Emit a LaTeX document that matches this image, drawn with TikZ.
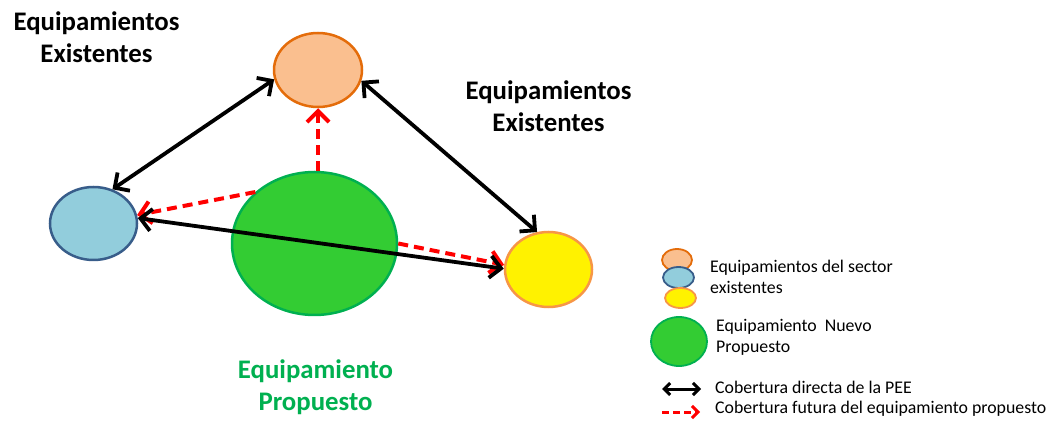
\documentclass[tikz,border=0pt]{standalone}
\usepackage{fontspec}
\setmainfont{Carlito}
\usetikzlibrary{shapes.geometric,arrows.meta}
\definecolor{orgfill}{RGB}{250,191,143}
\definecolor{orgline}{RGB}{228,108,10}
\definecolor{blufill}{RGB}{146,205,220}
\definecolor{bluline}{RGB}{56,93,138}
\definecolor{grnfill}{RGB}{51,204,51}
\definecolor{grnline}{RGB}{0,176,80}
\definecolor{yelline}{RGB}{247,150,70}
\begin{document}
\begin{tikzpicture}[x=1pt,y=1pt,
    eq/.style={ellipse,inner sep=0pt,line width=2.5pt},
    eqs/.style={ellipse,inner sep=0pt,line width=1.8pt},
    dir/.style={line width=3.8pt,{Straight Barb[length=11pt,width=22pt]}-{Straight Barb[length=11pt,width=22pt]}},
    fut/.style={red,line width=4pt,dash pattern=on 10pt off 6pt,-{Straight Barb[length=11pt,width=22pt]}},
    ttl/.style={font=\fontsize{26.8}{32}\selectfont\bfseries,align=center},
    lgd/.style={font=\fontsize{17.8}{21}\selectfont,align=left,anchor=west,inner sep=0pt}]
    \useasboundingbox[fill=white] (0,0) rectangle (1048,420);

    \node[eq,draw=orgline,fill=orgfill,minimum width=88,minimum height=74] (org) at (318,350) {};
    \node[eq,draw=bluline,fill=blufill,minimum width=87,minimum height=73] (blu) at (93.5,196.5) {};
    \node[eq,draw=grnline,fill=grnfill,minimum width=165,minimum height=143] (grn) at (314.5,176.5) {};
    \node[eq,draw=yelline,fill=yellow,minimum width=87,minimum height=75] (yel) at (548.5,150.5) {};

    \draw[fut] (grn.north -| org.south) -- (org.south);
    \draw[fut] (grn.139) -- (blu.11);
    \draw[fut] (grn.east) -- (yel.174);

    \draw[dir] (org.192) -- (blu.61);
    \draw[dir] (org.346) -- (yel.107);
    \draw[dir] (blu.7) -- (yel.179);

    \node[ttl] (t1) at (96.5,383) {Equipamientos\\Existentes};
    \node[ttl] (t2) at (548.5,314) {Equipamientos\\Existentes};
    \node[ttl,text=grnline] (t3) at (315.5,32.5) {Equipamiento\\Propuesto};

    \node[eqs,draw=orgline,fill=orgfill,minimum width=30,minimum height=22] (lorg) at (677,160) {};
    \node[eqs,draw=bluline,fill=blufill,minimum width=31,minimum height=21] (lblu) at (678.5,142.5) {};
    \node[eqs,draw=yelline,fill=yellow,minimum width=31,minimum height=20] (lyel) at (680.5,122) {};
    \node[eqs,draw=grnline,fill=grnfill,minimum width=56,minimum height=49] (lgrn) at (679,78.5) {};

    \node[lgd] (l1) at (710,143.5) {Equipamientos del sector\\existentes};
    \node[lgd] (l2) at (716,82.5) {Equipamiento\ \ Nuevo\\Propuesto};
    \node[lgd,anchor=base west] (l3) at (715,27) {Cobertura directa de la PEE};
    \node[lgd,anchor=base west] (l4) at (715,6.5) {Cobertura futura del equipamiento propuesto};

    \coordinate (k1) at (662,31);
    \coordinate (k2) at (701,31);
    \coordinate (f1) at (662,8);
    \coordinate (f2) at (700,8);
    \draw[line width=3pt,{Straight Barb[length=6pt,width=12pt]}-{Straight Barb[length=6pt,width=12pt]}] (k1) -- (k2);
    \draw[red,line width=3pt,dash pattern=on 7pt off 4pt,-{Straight Barb[length=6pt,width=12pt]}] (f1) -- (f2);
\end{tikzpicture}
\end{document}
